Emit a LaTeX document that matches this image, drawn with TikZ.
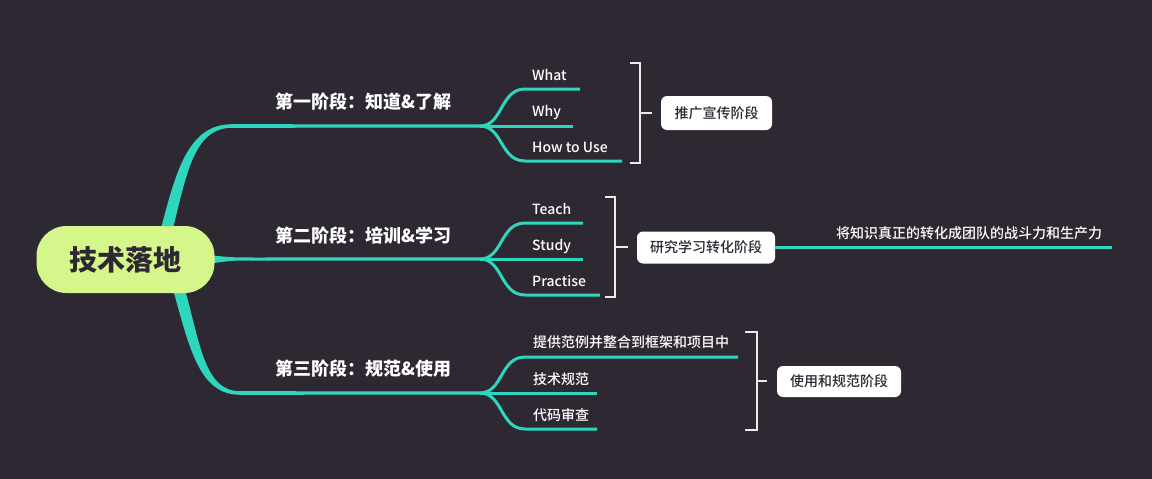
\documentclass[tikz,border=0pt]{standalone}
\usepackage{fontspec}
\setmainfont{Noto Sans CJK SC}
\newfontfamily\medfont{Noto Sans CJK SC}[UprightFont={* Medium}]
\definecolor{bg}{RGB}{46,40,51}
\definecolor{teal}{RGB}{46,214,190}
\definecolor{rootgreen}{RGB}{212,246,138}
\definecolor{brk}{RGB}{235,235,235}
\definecolor{dark}{RGB}{46,40,51}
\begin{document}
\begin{tikzpicture}[x=1pt,y=-1pt,
  root/.style={fill=rootgreen, rounded corners=30pt, minimum width=178pt, minimum height=67pt,
    inner sep=0pt, text=dark, font=\fontsize{28}{28}\selectfont\bfseries},
  mainlabel/.style={anchor=base west, inner sep=0pt, text=white, font=\fontsize{18}{18}\selectfont\bfseries},
  sublabel/.style={anchor=base west, inner sep=0pt, text=white, font=\fontsize{14}{14}\selectfont\medfont},
  tagbox/.style={fill=white, rounded corners=6pt, inner sep=0pt, text=dark, font=\fontsize{14}{14}\selectfont\medfont},
  sub/.style={draw=teal, line width=3pt},
  brace/.style={draw=brk, line width=2pt},
  taper/.style={fill=teal}
]
\fill[bg] (0,0) rectangle (1152,479);
\useasboundingbox (0,0) rectangle (1152,479);

% fork points
\coordinate (f1) at (480,126);
\coordinate (f2) at (480,259);
\coordinate (f3) at (480,393);

% main tapered branches
\fill[taper] (160,232) .. controls (175.5,174) and (187,124.2) .. (232,124.2) -- (480,124.4) -- (480,127.6)
  -- (232,127.8) .. controls (193,127.8) and (186.5,176) .. (172,232) -- cycle;
\fill[taper] (205,254.5) .. controls (230,257.5) .. (260,257.5) -- (480,257.4) -- (480,260.6)
  -- (260,260.5) .. controls (230,260.5) .. (205,264.5) -- cycle;
\fill[taper] (172,286) .. controls (189,345) and (198,394.8) .. (240,394.8) -- (480,394.6) -- (480,391.4)
  -- (240,391.2) .. controls (204,391.2) and (200,342) .. (184,286) -- cycle;

% root
\node[root] (root) at (125.5,259.5) {技术落地};

% main labels
\node[mainlabel] (m1) at (275,108.5) {第一阶段：知道\&了解};
\node[mainlabel] (m2) at (275,242) {第二阶段：培训\&学习};
\node[mainlabel] (m3) at (275,375.5) {第三阶段：规范\&使用};

% group 1
\coordinate (e11) at (580,89);
\coordinate (e12) at (573,126);
\coordinate (e13) at (622,161);
\draw[sub] (f1) .. controls (503,126) and (500,89) .. (525,89) -- (e11);
\draw[sub] (f1) -- (e12);
\draw[sub] (f1) .. controls (503,126) and (500,161) .. (525,161) -- (e13);
\node[sublabel] (s11) at (532,80) {What};
\node[sublabel] (s12) at (532,116) {Why};
\node[sublabel] (s13) at (532,152) {How to Use};

% group 2
\coordinate (e21) at (583,223);
\coordinate (e22) at (583,259);
\coordinate (e23) at (600,295);
\draw[sub] (f2) .. controls (503,259) and (500,223) .. (525,223) -- (e21);
\draw[sub] (f2) -- (e22);
\draw[sub] (f2) .. controls (503,259) and (500,295) .. (525,295) -- (e23);
\node[sublabel] (s21) at (532,214) {Teach};
\node[sublabel] (s22) at (532,250) {Study};
\node[sublabel] (s23) at (532,286) {Practise};

% group 3
\coordinate (e31) at (738,357);
\coordinate (e32) at (597,393);
\coordinate (e33) at (597,429);
\draw[sub] (f3) .. controls (503,393) and (500,357) .. (525,357) -- (e31);
\draw[sub] (f3) -- (e32);
\draw[sub] (f3) .. controls (503,393) and (500,429) .. (525,429) -- (e33);
\node[sublabel] (s31) at (533,347.5) {提供范例并整合到框架和项目中};
\node[sublabel] (s32) at (533,384) {技术规范};
\node[sublabel] (s33) at (533,420) {代码审查};

% brackets and tags
\node[tagbox, minimum width=111pt, minimum height=34pt] (t1) at (716.5,113) {推广宣传阶段};
\draw[brace] (630,63) -- (640,63) -- (640,163) -- (630,163);
\coordinate (b1) at (640,113);
\draw[brace] (b1) -- (652,113);

\node[tagbox, minimum width=138pt, minimum height=32pt] (t2) at (706,247.5) {研究学习转化阶段};
\draw[brace] (605,197) -- (615,197) -- (615,297) -- (605,297);
\coordinate (b2) at (615,247);
\draw[brace] (b2) -- (628,247);

\node[tagbox, minimum width=124pt, minimum height=31pt] (t3) at (839,381.5) {使用和规范阶段};
\draw[brace] (745,332) -- (757,332) -- (757,430) -- (745,430);
\coordinate (b3) at (757,381);
\draw[brace] (b3) -- (767,381);

% extra branch
\coordinate (e4) at (1112,247);
\draw[sub] (t2.east |- 0,247) -- (e4);
\node[sublabel, anchor=center] (x4) at (969,233) {将知识真正的转化成团队的战斗力和生产力};
\end{tikzpicture}
\end{document}
